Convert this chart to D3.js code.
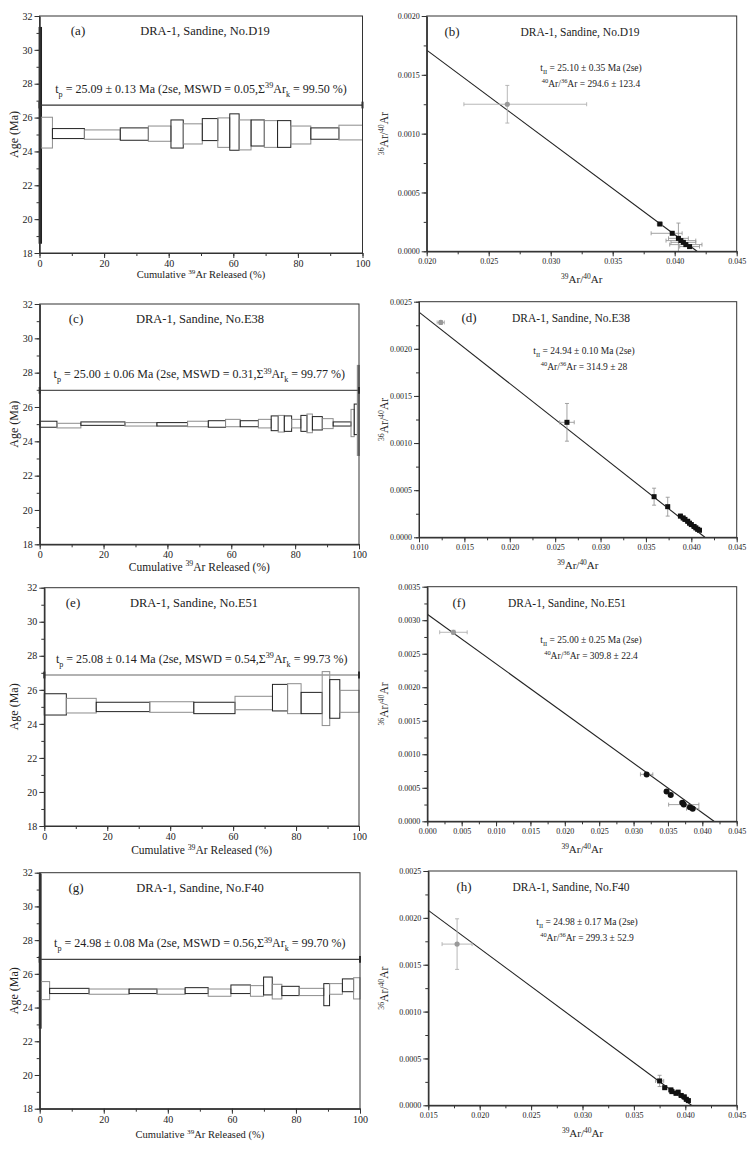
<!DOCTYPE html>
<html lang="en">
<head>
<meta charset="utf-8">
<title>DRA-1 sanidine plateau and isochron ages</title>
<script src="https://d3js.org/d3.v7.min.js"></script>
<style>
  body { margin: 0; background: #fff; }
  svg text { font-family: "Liberation Serif", "Times New Roman", serif; fill: #222; }
</style>
</head>
<body>
<svg id="fig" width="748" height="1160"></svg>
<script>
// ---- data ----
const samples = ['D19', 'E38', 'E51', 'F40'];
const leftTags = ['(a)', '(c)', '(e)', '(g)'];
const rightTags = ['(b)', '(d)', '(f)', '(h)'];

// step heating: cumulative 39Ar edges (%), upper and lower age of each step (Ma)
const cumD19 = [0, 0.5, 4.0, 13.9, 25.0, 33.7, 40.7, 44.5, 50.4, 55.2, 58.9, 61.8, 65.5, 69.6, 73.7, 77.8, 84.0, 92.7, 100];
const hiD19 = [31.3, 26.02, 25.35, 25.27, 25.39, 25.50, 25.86, 25.63, 25.94, 25.98, 26.22, 25.86, 25.86, 25.82, 25.82, 25.50, 25.39, 25.55];
const loD19 = [18.6, 24.20, 24.76, 24.72, 24.66, 24.60, 24.20, 24.44, 24.64, 24.24, 24.07, 24.09, 24.32, 24.24, 24.24, 24.44, 24.72, 24.68];

const cumE38 = [0, 5.4, 12.9, 26.7, 36.7, 46.3, 52.8, 58.2, 62.8, 68.5, 72.5, 74.7, 76.6, 78.9, 81.8, 83.7, 85.4, 88.5, 91.9, 97.5, 98.5, 99.6, 100];
const hiE38 = [25.17, 25.05, 25.13, 25.09, 25.09, 25.17, 25.20, 25.28, 25.20, 25.28, 25.48, 25.51, 25.48, 25.28, 25.51, 25.59, 25.44, 25.32, 25.13, 25.86, 26.17, 28.4];
const loE38 = [24.82, 24.78, 24.93, 24.89, 24.89, 24.85, 24.82, 24.85, 24.85, 24.78, 24.62, 24.54, 24.58, 24.78, 24.58, 24.50, 24.66, 24.74, 24.89, 24.27, 24.39, 23.2];

const cumE51 = [0, 7.0, 16.5, 33.5, 47.5, 60.6, 72.5, 77.3, 81.6, 88.3, 90.7, 93.9, 100];
const hiE51 = [25.77, 25.50, 25.27, 25.30, 25.27, 25.62, 26.32, 26.36, 25.85, 27.07, 26.60, 25.97];
const loE51 = [24.52, 24.64, 24.72, 24.68, 24.60, 24.83, 24.76, 24.60, 24.60, 23.90, 24.33, 24.68];

const cumF40 = [0, 0.3, 3.1, 15.4, 27.9, 36.6, 45.4, 52.6, 59.7, 65.8, 69.9, 72.6, 75.6, 81.0, 88.7, 90.5, 94.5, 98.0, 100];
const hiF40 = [31.9, 25.54, 25.14, 25.10, 25.10, 25.10, 25.18, 25.10, 25.34, 25.30, 25.81, 25.38, 25.26, 25.14, 25.42, 25.42, 25.70, 25.77];
const loF40 = [22.8, 24.47, 24.83, 24.79, 24.83, 24.79, 24.83, 24.67, 24.83, 24.67, 24.75, 24.51, 24.71, 24.71, 24.11, 24.79, 24.94, 24.51];

// level where the plateau bar is drawn (Ma)
const plateauLine = [26.74, 26.97, 26.87, 26.86];
const plateauAge = ['25.09 ± 0.13', '25.00 ± 0.06', '25.08 ± 0.14', '24.98 ± 0.08'];
const mswd = ['0.05', '0.31', '0.54', '0.56'];
const ar39k = ['99.50', '99.77', '99.73', '99.70'];

// inverse isochrons: 39Ar/40Ar, 36Ar/40Ar and error half-widths (first point excluded from fit)
const xD19 = [0.0265, 0.0388, 0.0398, 0.0403, 0.0405, 0.0407, 0.0409, 0.0412];
const yD19 = [0.00125, 0.000232, 0.000153, 0.000110, 0.000091, 0.000076, 0.000057, 0.000040];
const exD19 = [[0.0035, 0.0064], 0.0002, [0.0017, 0.0008], 0.0008, 0.0012, 0.0010, 0.0013, 0.0008];
const eyD19 = [0.00016, 0.00001, 0.00001, 0.00013, 0.00001, 0.00001, 0.00001, 0.00001];

const xE38 = [0.0124, 0.0263, 0.0359, 0.0374, 0.0388, 0.0391, 0.0393, 0.0396, 0.0398, 0.0400, 0.0403, 0.0405, 0.0407, 0.0409];
const yE38 = [0.00228, 0.00122, 0.000431, 0.000325, 0.000225, 0.000205, 0.000190, 0.000170, 0.000150, 0.000135, 0.000115, 0.000100, 0.000085, 0.000075];
const exE38 = [0.0004, 0.0008, 0.0001, 0.0002, 0.0002, 0.0002, 0.0002, 0.0002, 0.0002, 0.0002, 0.0002, 0.0002, 0.0002, 0.0002];
const eyE38 = [0.00002, 0.0002, 0.00009, 0.0001, 0.00002, 0.00002, 0.00002, 0.00002, 0.00002, 0.00002, 0.00002, 0.00002, 0.00002, 0.00002];

const xE51 = [0.0038, 0.0319, 0.0348, 0.0354, 0.0371, 0.0373, 0.0382, 0.0386];
const yE51 = [0.00282, 0.000700, 0.000443, 0.000393, 0.000278, 0.000249, 0.000209, 0.000189];
const exE51 = [0.0020, 0.0009, 0.0003, 0.0003, 0.0004, 0.0022, 0.0004, 0.0009];
const eyE51 = [0.00003, 0.00002, 0.00002, 0.00002, 0.00002, 0.00003, 0.00002, 0.00002];

const xF40 = [0.0178, 0.0375, 0.0380, 0.0386, 0.0387, 0.0391, 0.0393, 0.0396, 0.0399, 0.0401, 0.0403];
const yF40 = [0.00172, 0.00026, 0.000188, 0.000164, 0.000146, 0.000128, 0.000140, 0.000105, 0.000090, 0.000064, 0.00005];
const exF40 = [0.00146, 0.0004, 0.0002, 0.0002, 0.0002, 0.0002, 0.0002, 0.0002, 0.0002, 0.0002, 0.0002];
const eyF40 = [0.00027, 0.00006, 0.00002, 0.00002, 0.00002, 0.00002, 0.00002, 0.00002, 0.00002, 0.00002, 0.00002];

// fitted isochron line end points [x, y]
const fitD19 = [[0.020, 0.00171], [0.0418, 0]];
const fitE38 = [[0.010, 0.00239], [0.0415, 0]];
const fitE51 = [[0.000, 0.00309], [0.0417, 0]];
const fitF40 = [[0.015, 0.00208], [0.0406, 0]];

// axis ranges
const ageRange = [18, 32];
const cumRange = [0, 100];
const isoXMin = [0.020, 0.010, 0.000, 0.015];
const isoXMax = [0.045, 0.045, 0.045, 0.045];
const isoYMax = [0.0020, 0.0025, 0.0035, 0.0025];

const isoAge = ['25.10 ± 0.35', '24.94 ± 0.10', '25.00 ± 0.25', '24.98 ± 0.17'];
const isoRatio = ['294.6 ± 123.4', '314.9 ± 28', '309.8 ± 22.4', '299.3 ± 52.9'];

const steps = [[cumD19, hiD19, loD19], [cumE38, hiE38, loE38], [cumE51, hiE51, loE51], [cumF40, hiF40, loF40]];
const isos = [[xD19, yD19, exD19, eyD19, fitD19], [xE38, yE38, exE38, eyE38, fitE38],
              [xE51, yE51, exE51, eyE51, fitE51], [xF40, yF40, exF40, eyF40, fitF40]];

// ---- layout ----
const leftBox = [
  {l: 39.5, r: 362.5, t: 16, b: 253, tagX: 78, titleX: 205, xlab: 25, xlabSize: 10.5, plateauColor: '#333'},
  {l: 39.7, r: 359, t: 304, b: 544.3, tagX: 76, titleX: 200, xlab: 26.5, xlabSize: 11.5, plateauColor: '#555'},
  {l: 44.3, r: 359, t: 587.7, b: 826, tagX: 73, titleX: 194, xlab: 28, xlabSize: 11.5, plateauColor: '#999'},
  {l: 39.7, r: 360, t: 872.7, b: 1108.7, tagX: 76, titleX: 200, xlab: 29, xlabSize: 10.5, plateauColor: '#444'}
];
const rightBox = [
  {l: 426.7, r: 736.7, t: 16, b: 251.3, tagX: 452, titleX: 580, txtX: 591, txtY: 55},
  {l: 419, r: 736.7, t: 301.7, b: 537.3, tagX: 469, titleX: 571, txtX: 584, txtY: 52},
  {l: 427.3, r: 736.7, t: 586.7, b: 821.3, tagX: 459, titleX: 567, txtX: 591, txtY: 56},
  {l: 428.3, r: 736.7, t: 871, b: 1105.3, tagX: 464, titleX: 571, txtX: 587, txtY: 54}
];

const svg = d3.select('#fig');

// text with sub / superscript pieces
function rich(g, x, y, size, parts, anchor) {
  const t = g.append('text').attr('x', x).attr('y', y)
    .attr('font-size', size).attr('text-anchor', anchor || 'middle');
  let shift = 0;
  parts.forEach(function (p) {
    const s = p[0], k = p[1];
    const want = k === 'sub' ? size * 0.3 : k === 'sup' ? -size * 0.38 : 0;
    t.append('tspan').attr('dy', want - shift)
      .attr('font-size', k ? size * 0.68 : size).text(s);
    shift = want;
  });
  return t;
}

function range(a, b, s) {
  const out = [];
  for (let v = a; v <= b + s / 1000; v += s) out.push(+v.toFixed(6));
  return out;
}

function drawAxes(g, x, y, box, xMajor, xMinor, yMajor, yMinor, fx, fy, tickSize, yPad) {
  g.append('g').attr('transform', `translate(0,${box.b})`)
    .call(d3.axisBottom(x).tickValues(xMinor).tickSize(3).tickFormat('').tickSizeOuter(0));
  g.append('g').attr('transform', `translate(0,${box.b})`)
    .call(d3.axisBottom(x).tickValues(xMajor).tickSize(5).tickPadding(2).tickFormat(fx).tickSizeOuter(0))
    .call(a => a.selectAll('text').attr('font-size', tickSize).attr('fill', '#333'));
  g.append('g').attr('transform', `translate(${box.l},0)`)
    .call(d3.axisLeft(y).tickValues(yMinor).tickSize(3).tickFormat('').tickSizeOuter(0));
  g.append('g').attr('transform', `translate(${box.l},0)`)
    .call(d3.axisLeft(y).tickValues(yMajor).tickSize(5).tickPadding(yPad).tickFormat(fy).tickSizeOuter(0))
    .call(a => a.selectAll('text').attr('font-size', tickSize).attr('fill', '#333'));
  g.selectAll('.domain').attr('stroke', '#333');
  g.selectAll('.tick line').attr('stroke', '#333');
  g.selectAll('.tick text').attr('font-family', '"Liberation Serif", "Times New Roman", serif');
  g.append('rect').attr('x', box.l).attr('y', box.t)
    .attr('width', box.r - box.l).attr('height', box.b - box.t)
    .attr('fill', 'none').attr('stroke', '#333').attr('stroke-width', 1);
}

// ---- plateau (age spectrum) panels ----
leftBox.forEach(function (box, i) {
  const g = svg.append('g');
  const x = d3.scaleLinear().domain(cumRange).range([box.l, box.r]);
  const y = d3.scaleLinear().domain(ageRange).range([box.b, box.t]);
  const [cum, hi, lo] = steps[i];

  g.selectAll('rect.step').data(hi).join('rect')
    .attr('class', 'step')
    .attr('x', (d, j) => x(cum[j]))
    .attr('width', (d, j) => Math.max(1, x(cum[j + 1]) - x(cum[j])))
    .attr('y', d => y(d))
    .attr('height', (d, j) => y(lo[j]) - y(d))
    .attr('fill', 'none')
    .attr('stroke', (d, j) => j % 2 ? '#8c8c8c' : '#222')
    .attr('stroke-width', (d, j) => cum[j + 1] - cum[j] < 1 ? 1.8 : 1);

  // plateau bar with end caps
  const py = y(plateauLine[i]);
  g.append('line').attr('x1', x(0)).attr('x2', x(100)).attr('y1', py).attr('y2', py)
    .attr('stroke', box.plateauColor).attr('stroke-width', 1.3);
  [0, 100].forEach(function (c) {
    g.append('line').attr('x1', x(c)).attr('x2', x(c))
      .attr('y1', y(plateauLine[i] + 0.2)).attr('y2', y(plateauLine[i] - 0.2))
      .attr('stroke', '#222').attr('stroke-width', 2);
  });

  drawAxes(g, x, y, box, range(0, 100, 20), range(0, 100, 10), range(18, 32, 2), range(18, 32, 1),
    d3.format('d'), d3.format('d'), 10, 2);

  g.append('text').attr('x', box.tagX).attr('y', box.t + 19).attr('font-size', 13)
    .attr('text-anchor', 'middle').text(leftTags[i]);
  g.append('text').attr('x', box.titleX).attr('y', box.t + 19).attr('font-size', 12.5)
    .attr('text-anchor', 'middle').text('DRA-1, Sandine, No.' + samples[i]);

  rich(g, (box.l + box.r) / 2, py - 12, 12, [
    ['t', ''], ['p', 'sub'],
    [' = ' + plateauAge[i] + ' Ma (2se, MSWD = ' + mswd[i] + ',Σ', ''], ['39', 'sup'],
    ['Ar', ''], ['k', 'sub'], [' = ' + ar39k[i] + ' %)', '']
  ]);

  rich(g, (box.l + box.r) / 2, box.b + box.xlab, box.xlabSize, [
    ['Cumulative ', ''], ['39', 'sup'], ['Ar Released (%)', '']
  ]);

  g.append('text')
    .attr('transform', `translate(18,${(box.t + box.b) / 2}) rotate(-90)`)
    .attr('font-size', 12).attr('text-anchor', 'middle').text('Age (Ma)');
});

// ---- inverse isochron panels ----
rightBox.forEach(function (box, i) {
  const g = svg.append('g');
  const x = d3.scaleLinear().domain([isoXMin[i], isoXMax[i]]).range([box.l, box.r]);
  const y = d3.scaleLinear().domain([0, isoYMax[i]]).range([box.b, box.t]);
  const [xs, ys, ex, ey, fit] = isos[i];
  const clipId = 'clip' + i;

  g.append('clipPath').attr('id', clipId).append('rect')
    .attr('x', box.l).attr('y', box.t).attr('width', box.r - box.l).attr('height', box.b - box.t);
  const plot = g.append('g').attr('clip-path', `url(#${clipId})`);

  const pts = xs.map((v, j) => ({x: v, y: ys[j], ex: ex[j], ey: ey[j], out: j === 0}));

  plot.append('line')
    .attr('x1', x(fit[0][0])).attr('y1', y(fit[0][1]))
    .attr('x2', x(fit[1][0])).attr('y2', y(fit[1][1]))
    .attr('stroke', '#222').attr('stroke-width', 1.1);

  pts.forEach(function (p) {
    const m = Array.isArray(p.ex) ? p.ex : [p.ex, p.ex];
    const c = p.out ? '#b0b0b0' : '#999';
    plot.append('line').attr('x1', x(p.x - m[0])).attr('x2', x(p.x + m[1]))
      .attr('y1', y(p.y)).attr('y2', y(p.y)).attr('stroke', c).attr('stroke-width', 0.9);
    plot.append('line').attr('x1', x(p.x)).attr('x2', x(p.x))
      .attr('y1', y(p.y - p.ey)).attr('y2', y(p.y + p.ey)).attr('stroke', c).attr('stroke-width', 0.9);
    [[x(p.x - m[0]), y(p.y)], [x(p.x + m[1]), y(p.y)]].forEach(function (e) {
      plot.append('line').attr('x1', e[0]).attr('x2', e[0]).attr('y1', e[1] - 2).attr('y2', e[1] + 2)
        .attr('stroke', c).attr('stroke-width', 0.9);
    });
    [[x(p.x), y(p.y - p.ey)], [x(p.x), y(p.y + p.ey)]].forEach(function (e) {
      plot.append('line').attr('x1', e[0] - 2).attr('x2', e[0] + 2).attr('y1', e[1]).attr('y2', e[1])
        .attr('stroke', c).attr('stroke-width', 0.9);
    });
  });

  pts.forEach(function (p) {
    if (p.out) {
      plot.append('circle').attr('cx', x(p.x)).attr('cy', y(p.y)).attr('r', 2.6).attr('fill', '#999');
    } else if (i === 2) {
      plot.append('circle').attr('cx', x(p.x)).attr('cy', y(p.y)).attr('r', 3).attr('fill', '#111');
    } else {
      plot.append('rect').attr('x', x(p.x) - 2.5).attr('y', y(p.y) - 2.5)
        .attr('width', 5).attr('height', 5).attr('fill', '#111');
    }
  });

  drawAxes(g, x, y, box,
    range(isoXMin[i], isoXMax[i], 0.005), range(isoXMin[i], isoXMax[i], 0.0025),
    range(0, isoYMax[i], 0.0005), range(0, isoYMax[i], 0.00025),
    d3.format('.3f'), d3.format('.4f'), 8, 2);

  g.append('text').attr('x', box.tagX).attr('y', box.t + 20).attr('font-size', 13)
    .attr('text-anchor', 'middle').text(rightTags[i]);
  g.append('text').attr('x', box.titleX).attr('y', box.t + 20).attr('font-size', 11.5)
    .attr('text-anchor', 'middle').text('DRA-1, Sandine, No.' + samples[i]);

  rich(g, box.txtX, box.t + box.txtY, 9.5, [
    ['t', ''], ['II', 'sub'], [' = ' + isoAge[i] + ' Ma (2se)', '']
  ]);
  rich(g, box.txtX, box.t + box.txtY + 16, 9.5, [
    ['40', 'sup'], ['Ar/', ''], ['36', 'sup'], ['Ar = ' + isoRatio[i], '']
  ]);

  rich(g, (box.l + box.r) / 2, box.b + 32, 11, [
    ['39', 'sup'], ['Ar/', ''], ['40', 'sup'], ['Ar', '']
  ]);
  const yl = rich(g, 0, 0, 11.5, [['36', 'sup'], ['Ar/', ''], ['40', 'sup'], ['Ar', '']]);
  yl.attr('transform', `translate(388,${(box.t + box.b) / 2}) rotate(-90)`);
});
</script>
</body>
</html>
